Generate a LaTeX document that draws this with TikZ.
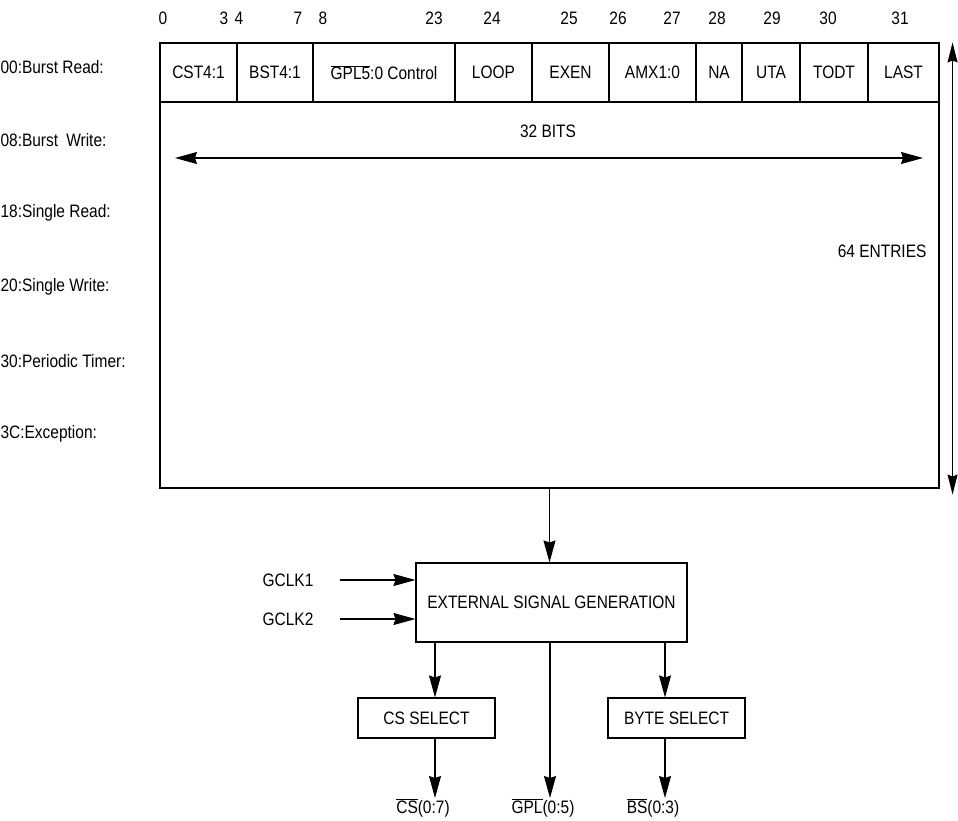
\documentclass[tikz,border=0pt]{standalone}
\usepackage{fontspec}
\setmainfont[FakeStretch=0.86]{Liberation Sans}
\usetikzlibrary{arrows.meta}
\newcommand{\ovl}[1]{$\overline{\mbox{#1}}$}

\begin{document}
\begin{tikzpicture}[x=1pt,y=-1pt,line width=1.1pt,
    >={Stealth[length=22pt,width=12pt,inset=2pt]},
    every node/.style={font=\fontsize{18}{21}\selectfont},
    lbl/.style={inner sep=0pt},
    blk/.style={draw,inner sep=0pt}]
  \useasboundingbox (0,0) rectangle (958,820);
  % bit numbers above the fields
  \foreach \x/\b in {163/0,224/3,239/4,298/7,323/8,434/23,492/24,569/25,618/26,672/27,717/28,772/29,828/30,900/31}
    \node[lbl] (bit\b) at (\x,18) {\b};
  % the RAM array and its first word
  \node[blk,minimum width=779pt,minimum height=445pt] (table) at (549.5,265.5) {};
  \foreach \l/\r/\t [count=\i] in {160/237/CST4:1,237/313/BST4:1,313/455/{\ovl{GPL5}:0 Control},455/532/LOOP,532/609/EXEN,609/696/AMX1:0,696/742/NA,742/800/UTA,800/868/TODT,868/939/LAST}
  {
    \pgfmathsetmacro\w{\r-\l}
    \node[blk,minimum width=\w pt,minimum height=59pt] (field\i) at ({(\l+\r)/2},72.5) {\t};
  }
  % entry points
  \foreach \y/\t [count=\i] in {67/00:Burst Read:,140/{08:Burst\hspace{0.45em}Write:},213/18:Single Read:,287/20:Single Write:,361/30:Periodic Timer:,434/3C:Exception:}
    \node[lbl,anchor=west] (entry\i) at (0,\y) {\t};
  % sizes
  \node[lbl] (bits) at (548,131) {32 BITS};
  \coordinate (bitsl) at (175,158);
  \coordinate (bitsr) at (923,158);
  \draw[<->] (bitsl) -- (bitsr);
  \node[lbl,anchor=east] (entries) at (927,251) {64 ENTRIES};
  \draw[<->,>={Stealth[length=20pt,width=10pt,inset=2pt]}] ([xshift=13pt]table.north east) -- ([xshift=13pt,yshift=-6pt]table.south east);
  % signal generation
  \node[blk,minimum width=271pt,minimum height=79pt] (esg) at (551.5,602.5) {EXTERNAL SIGNAL GENERATION};
  \draw[->] (table.south) -- (table.south |- esg.north);
  \node[lbl] (gclk1) at (288,580) {GCLK1};
  \node[lbl] (gclk2) at (288,619) {GCLK2};
  \draw[->] ([xshift=26pt]gclk1.east) -- (gclk1 -| esg.west);
  \draw[->] ([xshift=26pt]gclk2.east) -- (gclk2 -| esg.west);
  \node[blk,minimum width=137pt,minimum height=40pt] (cssel) at (426.5,718) {CS SELECT};
  \node[blk,minimum width=137pt,minimum height=40pt] (bytesel) at (676.5,718) {BYTE SELECT};
  \node[lbl,anchor=north] (csout) at (423,798) {\ovl{CS}(0:7)};
  \node[lbl,anchor=north] (gplout) at (543,798) {\ovl{GPL}(0:5)};
  \node[lbl,anchor=north] (bsout) at (653,798) {\ovl{BS}(0:3)};
  \coordinate (cstap) at (435,0);
  \coordinate (gpltap) at (550,0);
  \coordinate (bstap) at (665,0);
  \draw[->] (esg.south -| cstap) -- (cssel.north -| cstap);
  \draw[->] (esg.south -| bstap) -- (bytesel.north -| bstap);
  \draw[->] (esg.south -| gpltap) -- (gplout.north -| gpltap);
  \draw[->] (cssel.south -| cstap) -- (csout.north -| cstap);
  \draw[->] (bytesel.south -| bstap) -- (bsout.north -| bstap);
\end{tikzpicture}
\end{document}
